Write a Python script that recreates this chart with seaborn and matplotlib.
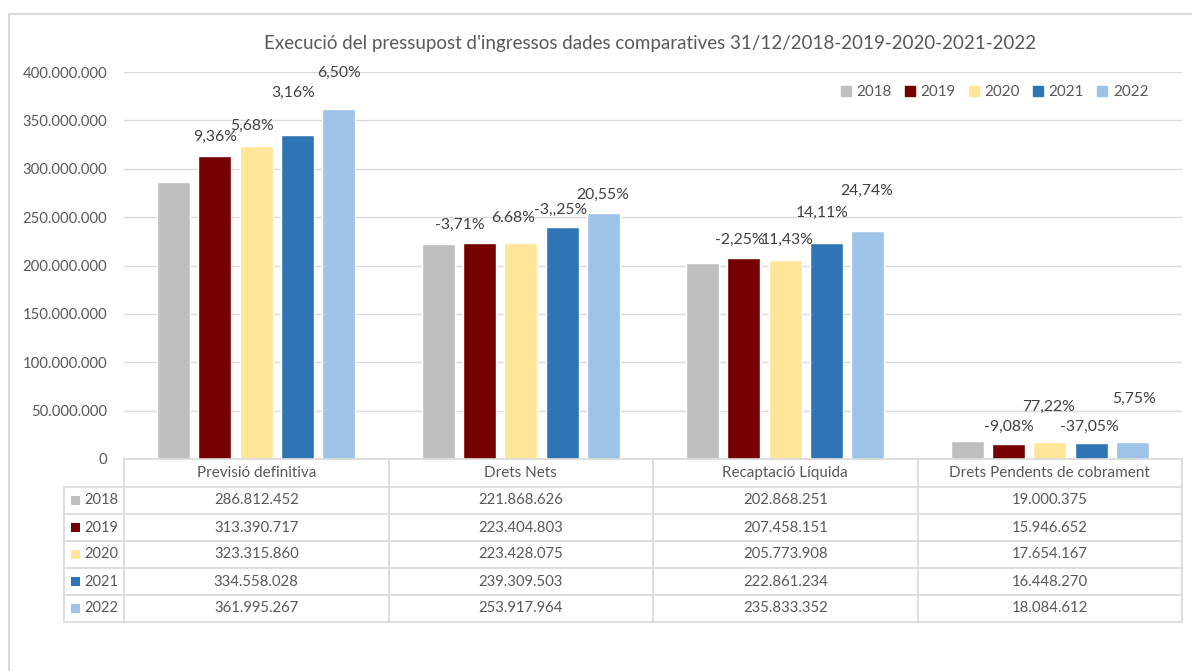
import matplotlib
matplotlib.use("Agg")
import matplotlib.pyplot as plt
import seaborn as sns
import pandas as pd
from matplotlib.patches import Rectangle
from matplotlib.lines import Line2D

# ---------------- data ----------------
categories = ["Previsió definitiva", "Drets Nets", "Recaptació Líquida", "Drets Pendents de cobrament"]
years = ["2018", "2019", "2020", "2021", "2022"]
v2018 = [286812452, 221868626, 202868251, 19000375]
v2019 = [313390717, 223404803, 207458151, 15946652]
v2020 = [323315860, 223428075, 205773908, 17654167]
v2021 = [334558028, 239309503, 222861234, 16448270]
v2022 = [361995267, 253917964, 235833352, 18084612]
table_2018 = ["286.812.452", "221.868.626", "202.868.251", "19.000.375"]
table_2019 = ["313.390.717", "223.404.803", "207.458.151", "15.946.652"]
table_2020 = ["323.315.860", "223.428.075", "205.773.908", "17.654.167"]
table_2021 = ["334.558.028", "239.309.503", "222.861.234", "16.448.270"]
table_2022 = ["361.995.267", "253.917.964", "235.833.352", "18.084.612"]
pct2019 = ["9,36%", "-3,71%", "-2,25%", "-9,08%"]
pct2020 = ["5,68%", "6.68%", "11,43%", "77,22%"]
pct2021 = ["3,16%", "-3,,25%", "14,11%", "-37,05%"]
pct2022 = ["6,50%", "20,55%", "24,74%", "5,75%"]
yticks = [0, 50e6, 100e6, 150e6, 200e6, 250e6, 300e6, 350e6, 400e6]
title = "Execució del pressupost d'ingressos dades comparatives 31/12/2018-2019-2020-2021-2022"

# ---------------- style ----------------
colors = ["#bfbfbf", "#760000", "#ffe699", "#2e75b6", "#9dc3e6"]
# label offsets (px) from bar top centre, per year 2019..2022
label_offsets = {
    "2019": [(0, 19), (-20, 18), (-4, 18), (0, 17)],
    "2020": [(-4, 20), (-8, 25), (2, 20), (-1, 35)],
    "2021": [(-4, 42), (-1, 17.5), (-4, 30), (-2, 16)],
    "2022": [(0, 36), (-1, 18), (-1, 40), (2, 43)],
}
grid_c = "#d9d9d9"
txt_c = "#595959"
lbl_c = "#404040"

sns.set_style("white")
plt.rcParams["font.family"] = ["Lato", "DejaVu Sans"]

W, H = 1192, 671
fig = plt.figure(figsize=(W / 100, H / 100), dpi=100)
ax_l, ax_r, ax_t, ax_b = 124, 1182, 72, 459
ax = fig.add_axes([ax_l / W, 1 - ax_b / H, (ax_r - ax_l) / W, (ax_b - ax_t) / H])

rows = []
series = [v2018, v2019, v2020, v2021, v2022]
for y, vals in zip(years, series):
    for c, v in zip(categories, vals):
        rows.append({"category": c, "year": y, "value": v})
df = pd.DataFrame(rows)

sns.barplot(data=df, x="category", y="value", hue="year", order=categories,
            hue_order=years, palette=colors, width=0.78, gap=0.2, saturation=1,
            errorbar=None, ax=ax, legend=False, zorder=3)

ax.set_xlim(-0.5, 3.5)
ax.set_ylim(0, 400e6)
ax.set_yticks(yticks)
ax.set_yticklabels([f"{int(v):,}".replace(",", ".") for v in yticks],
                   fontsize=10.7, color=txt_c)
ax.tick_params(axis="y", length=0, pad=12)
ax.set_xticks([])
ax.set_xlabel("")
ax.set_ylabel("")
ax.grid(axis="y", color=grid_c, lw=1, zorder=0)
for s in ax.spines.values():
    s.set_visible(False)

# percentage labels
pcts = {"2019": pct2019, "2020": pct2020, "2021": pct2021, "2022": pct2022}
for yi, y in enumerate(years):
    if y not in pcts:
        continue
    cont = ax.containers[yi]
    for ci, bar in enumerate(cont):
        dx, dy = label_offsets[y][ci]
        xc = bar.get_x() + bar.get_width() / 2
        ax.annotate(pcts[y][ci], (xc, bar.get_height()),
                    xytext=(dx * 0.72, dy * 0.72), textcoords="offset points",
                    ha="center", va="center", fontsize=11.3, color=lbl_c,
                    annotation_clip=False, zorder=5)

# legend
handles = [Line2D([], [], marker="s", linestyle="none", markersize=7,
                  markerfacecolor=c, markeredgecolor=c) for c in colors]
fig.legend(handles, years, loc="center right", ncol=5, frameon=False,
           bbox_to_anchor=(1162 / W, 1 - 92 / H), fontsize=10.9,
           handlelength=0.7, handletextpad=0.35, columnspacing=0.85,
           labelcolor=txt_c)

# title
fig.text(650 / W, 1 - 44 / H, title, ha="center", va="center",
         fontsize=13.5, color=txt_c)

# ---------------- data table ----------------
def fx(px):
    return px / W

def fy(py):
    return 1 - py / H

def hline(y, x0, x1):
    fig.add_artist(Line2D([fx(x0), fx(x1)], [fy(y), fy(y)], color=grid_c, lw=1.2,
                          transform=fig.transFigure))

def vline(x, y0, y1):
    fig.add_artist(Line2D([fx(x), fx(x)], [fy(y0), fy(y1)], color=grid_c, lw=1.2,
                          transform=fig.transFigure))

tbl_left = 64
head_top, head_bot = ax_b, 487
row_h = 27
n_rows = len(years)
col_w = (ax_r - ax_l) / len(categories)
col_edges = [ax_l + i * col_w for i in range(len(categories) + 1)]
row_edges = [head_bot + i * row_h for i in range(n_rows + 1)]

hline(head_top, ax_l, ax_r)
for ry in row_edges:
    hline(ry, tbl_left, ax_r)
vline(tbl_left, head_bot, row_edges[-1])
for cx in col_edges:
    vline(cx, head_top, row_edges[-1])

for ci, c in enumerate(categories):
    xc = (col_edges[ci] + col_edges[ci + 1]) / 2
    fig.text(fx(xc), fy((head_top + head_bot) / 2), c, ha="center", va="center",
             fontsize=11, color=txt_c)

table_rows = [table_2018, table_2019, table_2020, table_2021, table_2022]
for ri, (y, vals, col) in enumerate(zip(years, table_rows, colors)):
    yc = (row_edges[ri] + row_edges[ri + 1]) / 2
    fig.add_artist(Rectangle((fx(71), fy(yc + 4.5)), 9 / W, 9 / H,
                             facecolor=col, edgecolor="none",
                             transform=fig.transFigure))
    fig.text(fx(84), fy(yc), y, ha="left", va="center", fontsize=10.5, color=txt_c)
    for ci, v in enumerate(vals):
        xc = (col_edges[ci] + col_edges[ci + 1]) / 2
        fig.text(fx(xc), fy(yc), v, ha="center", va="center", fontsize=10.7,
                 color=txt_c)

# outer chart border (top and left)
fig.add_artist(Line2D([fx(9), fx(W)], [fy(14), fy(14)], color=grid_c, lw=1.5,
                      transform=fig.transFigure))
fig.add_artist(Line2D([fx(9), fx(9)], [fy(14), fy(H)], color=grid_c, lw=1.5,
                      transform=fig.transFigure))

fig.savefig("out.png", dpi=100, facecolor="white")
